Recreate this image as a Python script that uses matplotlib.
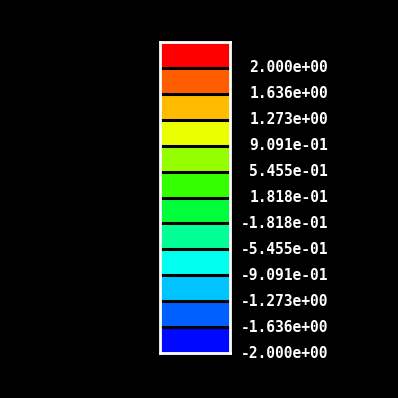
import matplotlib
matplotlib.use("Agg")
import matplotlib.pyplot as plt

W = H = 398
levels = [2.000, 1.636, 1.273, 0.9091, 0.5455, 0.1818,
          -0.1818, -0.5455, -0.9091, -1.273, -1.636, -2.000]
tick_labels = ["2.000e+00", "1.636e+00", "1.273e+00", "9.091e-01", "5.455e-01",
               "1.818e-01", "-1.818e-01", "-5.455e-01", "-9.091e-01",
               "-1.273e+00", "-1.636e+00", "-2.000e+00"]
# box colors from top to bottom
colors = ["#ff0000", "#ff5d00", "#ffbb00", "#ecff00", "#95ff00", "#33ff00",
          "#00ff3a", "#00ff95", "#00ffee", "#00c4ff", "#0060ff", "#0008ff"]

fig = plt.figure(figsize=(W / 100, H / 100), dpi=100, facecolor="black")
x0, x1 = 160 / W, 230 / W
y_top, y_bot = 42, 353
ax = fig.add_axes([x0, (H - y_bot) / H, x1 - x0, (y_bot - y_top) / H])
ax.set_facecolor("black")
n = len(colors)
ypos = [n - 1 - i for i in range(n)]  # top box at highest y
ax.barh([y + 0.5 for y in ypos], [1] * n, height=1.0, left=0, color=colors,
        edgecolor="none")
for i in range(1, n):
    ax.axhline(n - i, xmin=-0.03, xmax=1.03, color="black", lw=2.2, clip_on=False)
ax.set_xlim(0, 1)
ax.set_ylim(0, n)
for s in ax.spines.values():
    s.set_color("white")
    s.set_linewidth(2)
ax.set_xticks([])
ax.set_yticks([])

# labels at the bottom boundary of each box
trans = ax.get_yaxis_transform()
for i, lab in enumerate(tick_labels):
    yb = n - 1 - i
    ax.text(328 / W, yb, lab, transform=matplotlib.transforms.blended_transform_factory(
        fig.transFigure, ax.transData), ha="right", va="center", color="white",
        fontsize=10.5, fontweight="bold", family="DejaVu Sans Mono")

fig.savefig("out.png", dpi=100, facecolor="black")
